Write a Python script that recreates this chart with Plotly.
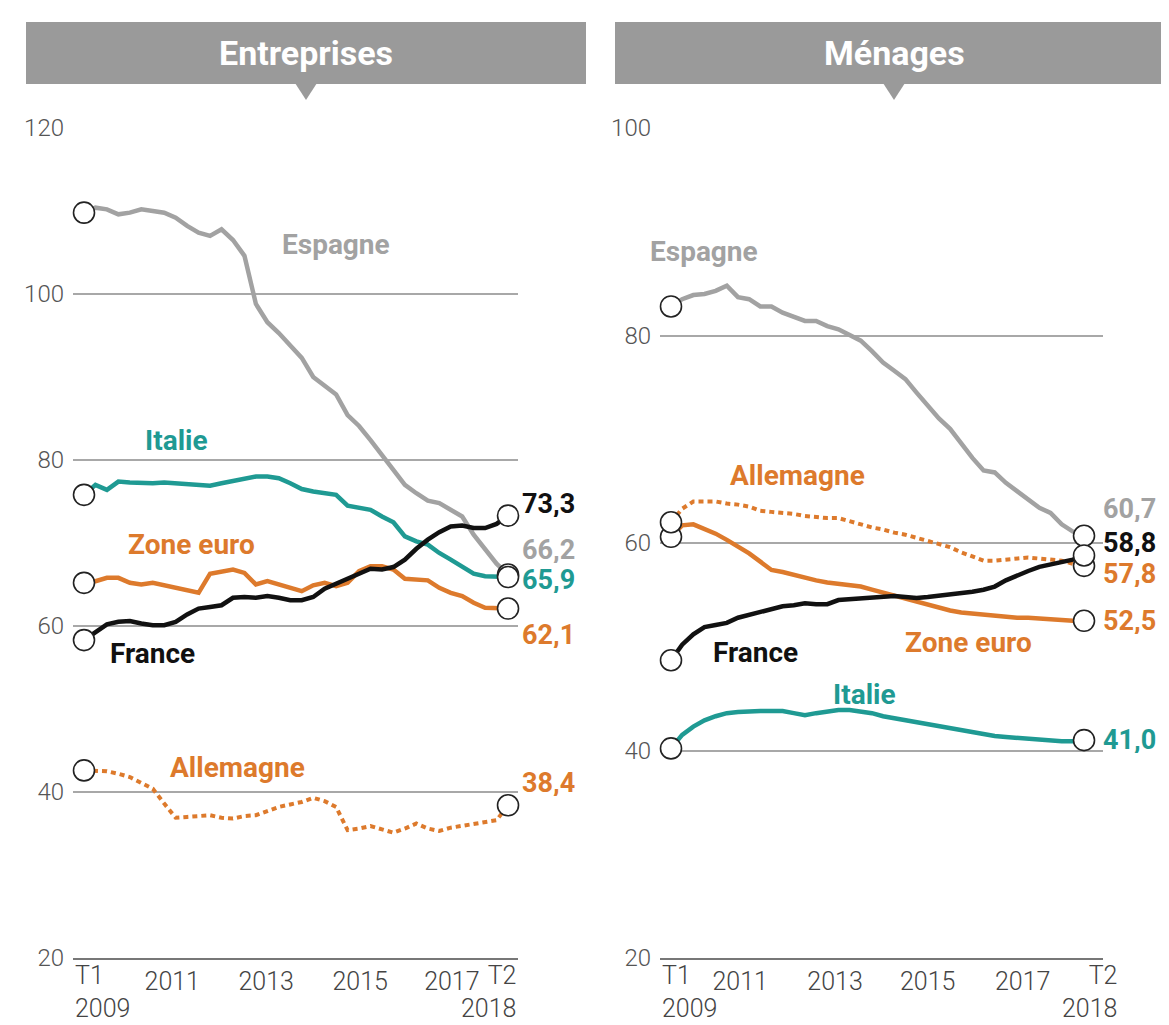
import plotly.graph_objects as go

W, H = 1169, 1025

# ---------------- data ----------------
quarters = [f"T{q} {y}" for y in range(2009, 2019) for q in range(1, 5)][:38]  # T1 2009 .. T2 2018

# Entreprises (dette en % du PIB)
ent_espagne = [109.8, 110.4, 110.2, 109.6, 109.8, 110.2, 110.0, 109.8, 109.2, 108.2,
               107.4, 107.0, 107.8, 106.5, 104.6, 98.8, 96.6, 95.3, 93.8, 92.3,
               90.0, 88.9, 87.9, 85.4, 84.1, 82.4, 80.6, 78.6, 77.0, 76.0,
               75.1, 74.8, 74.0, 73.2, 71.0, 69.2, 67.5, 66.2]
ent_italie = [75.8, 77.0, 76.4, 77.4, 77.3, 77.2, 77.2, 77.3, 77.2, 77.1,
              77.0, 76.9, 77.2, 77.5, 77.8, 78.0, 78.0, 77.8, 77.2, 76.5,
              76.2, 76.0, 75.8, 74.5, 74.2, 74.0, 73.2, 72.5, 70.8, 70.2,
              69.8, 68.8, 68.0, 67.2, 66.3, 66.0, 66.0, 65.9]
ent_zone_euro = [65.2, 65.4, 65.8, 65.8, 65.2, 65.0, 65.2, 64.9, 64.5, 64.2,
                 64.0, 66.3, 66.5, 66.8, 66.4, 65.0, 65.4, 65.0, 64.6, 64.2,
                 64.9, 65.2, 64.8, 65.2, 66.6, 67.2, 67.2, 66.8, 65.7, 65.6,
                 65.5, 64.6, 64.0, 63.6, 62.8, 62.2, 62.1, 62.1]
ent_france = [58.3, 59.3, 60.2, 60.5, 60.6, 60.3, 60.1, 60.1, 60.5, 61.4,
              62.1, 62.3, 62.5, 63.4, 63.5, 63.4, 63.6, 63.4, 63.1, 63.1,
              63.5, 64.5, 65.1, 65.6, 66.3, 66.9, 66.8, 67.1, 68.0, 69.3,
              70.4, 71.3, 72.0, 72.1, 71.8, 71.8, 72.3, 73.3]
ent_allemagne = [42.6, 42.6, 42.5, 42.2, 41.8, 41.1, 40.4, 38.6, 36.9, 37.0,
                 37.1, 37.2, 36.9, 36.8, 37.1, 37.2, 37.7, 38.2, 38.5, 38.8,
                 39.3, 38.9, 38.2, 35.4, 35.6, 35.9, 35.5, 35.1, 35.6, 36.2,
                 35.6, 35.3, 35.7, 35.9, 36.2, 36.4, 36.6, 38.4]

# Ménages (dette en % du PIB)
men_espagne = [82.8, 83.5, 83.9, 84.0, 84.3, 84.8, 83.7, 83.5, 82.8, 82.8,
               82.2, 81.8, 81.4, 81.4, 80.9, 80.6, 80.0, 79.5, 78.5, 77.4,
               76.6, 75.8, 74.5, 73.3, 72.0, 71.0, 69.6, 68.2, 67.0, 66.8,
               65.8, 65.0, 64.3, 63.4, 62.9, 61.8, 61.1, 60.7]
men_allemagne = [62.0, 63.3, 64.0, 64.0, 64.0, 63.8, 63.7, 63.5, 63.1, 63.0,
                 62.9, 62.8, 62.6, 62.5, 62.4, 62.4, 62.1, 61.8, 61.5, 61.3,
                 61.0, 60.8, 60.5, 60.2, 59.9, 59.6, 59.1, 58.7, 58.3, 58.3,
                 58.4, 58.5, 58.6, 58.5, 58.4, 58.3, 58.0, 57.8]
men_zone_euro = [60.6, 61.7, 61.8, 61.4, 60.9, 60.3, 59.7, 59.0, 58.2, 57.4,
                 57.2, 56.9, 56.6, 56.4, 56.2, 56.1, 55.9, 55.8, 55.5, 55.2,
                 54.9, 54.6, 54.3, 54.0, 53.7, 53.5, 53.3, 53.2, 53.0, 53.0,
                 52.9, 52.8, 52.8, 52.7, 52.6, 52.6, 52.5, 52.5]
men_france = [48.7, 50.2, 51.2, 51.9, 52.1, 52.3, 52.8, 53.1, 53.4, 53.6,
              53.9, 54.0, 54.2, 54.1, 54.1, 54.5, 54.6, 54.7, 54.8, 54.9,
              54.9, 54.8, 54.7, 54.8, 54.9, 55.0, 55.2, 55.3, 55.5, 55.8,
              56.4, 56.9, 57.3, 57.7, 57.9, 58.1, 58.4, 58.8]
men_italie = [40.2, 41.5, 42.3, 42.9, 43.3, 43.6, 43.7, 43.8, 43.8, 43.8,
              43.8, 43.6, 43.4, 43.6, 43.8, 43.9, 43.9, 43.8, 43.6, 43.3,
              43.1, 42.9, 42.7, 42.5, 42.3, 42.1, 41.9, 41.7, 41.5, 41.4,
              41.3, 41.2, 41.1, 41.0, 40.9, 40.9, 40.9, 41.0]

panel_titles = ["Entreprises", "Ménages"]
year_ticks = ["2011", "2013", "2015", "2017"]
start_label = "T1<br>2009"
end_label = "T2<br>2018"
left_yticks = [20, 40, 60, 80, 100, 120]
right_yticks = [20, 40, 60, 80, 100]

# ---------------- styles ----------------
GREY = "#a2a2a2"
TEAL = "#1f9a93"
ORANGE = "#dd7a2c"
BLACK = "#111111"
BAR = "#9a9a9a"
FONT = "Roboto, Arial, sans-serif"

x_idx = list(range(len(quarters)))
last = len(quarters) - 1


def px_x(p):
    return p / W


def px_y(p):
    return 1 - p / H


fig = go.Figure()


def add_series(vals, color, xa, ya, dash=None, width=4.5):
    fig.add_trace(go.Scatter(
        x=x_idx, y=vals, mode="lines", xaxis=xa, yaxis=ya,
        line=dict(color=color, width=width, dash=dash),
        hoverinfo="skip", showlegend=False, cliponaxis=False))


def add_ends(vals, xa, ya):
    fig.add_trace(go.Scatter(
        x=[x_idx[0], x_idx[last]], y=[vals[0], vals[last]], mode="markers",
        xaxis=xa, yaxis=ya,
        marker=dict(symbol="circle", size=21, color="white",
                    line=dict(color="#222222", width=1.6)),
        hoverinfo="skip", showlegend=False, cliponaxis=False))


# left panel
add_series(ent_espagne, GREY, "x", "y")
add_series(ent_italie, TEAL, "x", "y")
add_series(ent_zone_euro, ORANGE, "x", "y")
add_series(ent_allemagne, ORANGE, "x", "y", dash="5px,4px", width=4)
add_series(ent_france, BLACK, "x", "y")
for s in [ent_espagne, ent_italie, ent_zone_euro, ent_allemagne, ent_france]:
    add_ends(s, "x", "y")

# right panel
add_series(men_espagne, GREY, "x2", "y2")
add_series(men_italie, TEAL, "x2", "y2")
add_series(men_zone_euro, ORANGE, "x2", "y2")
add_series(men_allemagne, ORANGE, "x2", "y2", dash="5px,4px", width=4)
add_series(men_france, BLACK, "x2", "y2")
for s in [men_espagne, men_italie, men_zone_euro, men_allemagne, men_france]:
    add_ends(s, "x2", "y2")

# ---------------- axes ----------------
ydom = [px_y(950), px_y(120)]
tickfont_y = dict(family=FONT, size=24, color="#555555", weight=300)
tickfont_x = dict(family=FONT, size=25, color="#444444", weight=300)

common_x = dict(showgrid=False, zeroline=False, showline=True, linecolor="#777777",
                linewidth=1.5, ticks="", tickfont=tickfont_x, fixedrange=True,
                ticklabelstandoff=0)
common_y = dict(showgrid=True, gridcolor="#a8a8a8", gridwidth=1.6, zeroline=False,
                showline=False, ticks="", tickfont=tickfont_y, ticklabelstandoff=8,
                fixedrange=True)

fig.update_layout(
    xaxis=dict(domain=[px_x(65), px_x(510)], range=[-0.96, 37.87], anchor="y",
               tickvals=[7.7, 15.9, 24.1, 32.1], ticktext=year_ticks, **common_x),
    yaxis=dict(domain=ydom, range=[20, 120], anchor="x", tickvals=left_yticks, **common_y),
    xaxis2=dict(domain=[px_x(652), px_x(1095)], range=[-0.985, 38.70], anchor="y2",
                tickvals=[6.2, 14.7, 23.0, 31.5], ticktext=year_ticks, **common_x),
    yaxis2=dict(domain=ydom, range=[20, 100], anchor="x2", tickvals=right_yticks, **common_y),
)

# ---------------- title bars ----------------
shapes = []
annotations = []
for (x0, x1, xc), title in zip([(18, 578, 298), (607, 1165, 886)], panel_titles):
    shapes.append(dict(type="rect", xref="paper", yref="paper",
                       x0=px_x(x0), x1=px_x(x1), y0=px_y(76), y1=px_y(14),
                       fillcolor=BAR, line=dict(width=0), layer="below"))
    shapes.append(dict(type="path", xref="paper", yref="paper",
                       path=f"M {px_x(xc-11)} {px_y(75)} L {px_x(xc+11)} {px_y(75)} L {px_x(xc)} {px_y(92)} Z",
                       fillcolor=BAR, line=dict(width=0), layer="below"))
    annotations.append(dict(text=f"<b>{title}</b>", xref="paper", yref="paper",
                            x=px_x(xc), y=px_y(45), xanchor="center", yanchor="middle",
                            showarrow=False, font=dict(family=FONT, size=34, color="white")))

# x-axis end labels (T1 2009 / T2 2018)
for xa, ya, shift_l, shift_r in [("x", "y", -11, 10), ("x2", "y2", -11, 35)]:
    annotations.append(dict(text=start_label, xref=xa, yref=ya, x=x_idx[0], y=20,
                            xanchor="left", yanchor="top", align="left", xshift=shift_l, yshift=-1,
                            showarrow=False, font=tickfont_x))
    annotations.append(dict(text=end_label, xref=xa, yref=ya, x=x_idx[last], y=20,
                            xanchor="right", yanchor="top", align="right", xshift=shift_r, yshift=-1,
                            showarrow=False, font=tickfont_x))

LBL = 28
VAL = 27


def name_label(text, color, xa, ya, x, y, xshift=0):
    annotations.append(dict(text=f"<b>{text}</b>", xref=xa, yref=ya, x=x, y=y,
                            xanchor="left", yanchor="middle", showarrow=False, xshift=xshift,
                            font=dict(family=FONT, size=LBL, color=color)))


def value_label(val, color, xa, ya, xshift, yshift):
    annotations.append(dict(text=f"<b>{val:.1f}</b>".replace(".", ","), xref=xa, yref=ya,
                            x=x_idx[last], y=val, xanchor="left", yanchor="middle",
                            xshift=xshift, yshift=yshift, showarrow=False, height=26,
                            font=dict(family=FONT, size=VAL, color=color)))


# left labels
name_label("Espagne", GREY, "x", "y", 17.1, 106.0)
name_label("Italie", TEAL, "x", "y", 5.15, 82.3)
name_label("Zone euro", ORANGE, "x", "y", 3.67, 69.8)
name_label("France", BLACK, "x", "y", 2.1, 56.7)
name_label("Allemagne", ORANGE, "x", "y", 7.33, 42.9)
value_label(ent_france[last], BLACK, "x", "y", 12, 12)
value_label(ent_espagne[last], GREY, "x", "y", 12, 25)
value_label(ent_italie[last], TEAL, "x", "y", 12, -3)
value_label(ent_zone_euro[last], ORANGE, "x", "y", 12, -26)
value_label(ent_allemagne[last], ORANGE, "x", "y", 12, 22)

# right labels
name_label("Espagne", GREY, "x2", "y2", 0, 88.1, xshift=-23)
name_label("Allemagne", ORANGE, "x2", "y2", 5.1, 66.5)
name_label("France", BLACK, "x2", "y2", 3.6, 49.4)
name_label("Zone euro", ORANGE, "x2", "y2", 20.8, 50.4)
name_label("Italie", TEAL, "x2", "y2", 14.3, 45.4)
value_label(men_espagne[last], GREY, "x2", "y2", 17, 27)
value_label(men_france[last], BLACK, "x2", "y2", 17, 12)
value_label(men_allemagne[last], ORANGE, "x2", "y2", 17, -8)
value_label(men_zone_euro[last], ORANGE, "x2", "y2", 17, 0)
value_label(men_italie[last], TEAL, "x2", "y2", 17, 0)

fig.update_layout(
    width=W, height=H, margin=dict(l=0, r=0, t=0, b=0, autoexpand=False),
    paper_bgcolor="white", plot_bgcolor="white",
    shapes=shapes, annotations=annotations, showlegend=False,
    font=dict(family=FONT),
)

fig.write_html("out.html", config={"displayModeBar": False})
